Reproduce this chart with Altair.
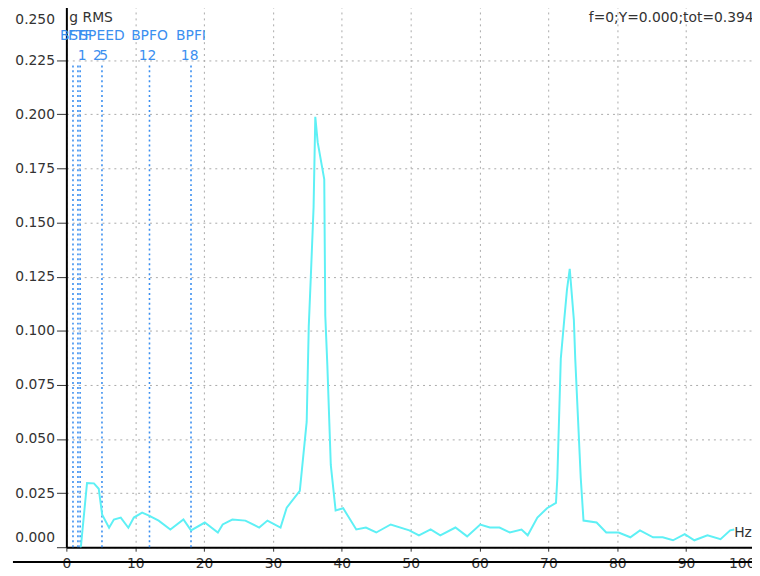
import altair as alt
import pandas as pd

# Spectrum (Hz, g RMS)
freq = [2.1, 3.0, 4.0, 4.7, 5.2, 6.2, 6.9, 7.9, 9.0, 9.8, 11.0, 12.0, 13.4, 15.1, 17.0,
        18.1, 20.1, 22.0, 22.7, 24.1, 26.0, 28.0, 29.2, 31.1, 32.0, 33.9, 34.9, 35.2,
        35.5, 35.9, 36.15, 36.5, 37.45, 37.6, 37.9, 38.4, 39.1, 40.2, 42.1, 43.5, 45.0,
        47.1, 49.8, 51.2, 52.9, 54.3, 56.5, 58.2, 60.1, 61.5, 62.9, 64.4, 66.1, 67.0,
        68.4, 69.8, 71.1, 71.3, 71.8, 72.3, 72.7, 73.1, 73.7, 73.9, 74.7, 75.1, 77.0,
        78.4, 80.2, 81.9, 83.3, 85.2, 86.6, 88.1, 89.8, 91.2, 93.1, 95.0, 96.4, 97.0]
amp = [0.0, 0.0297, 0.0295, 0.027, 0.015, 0.009, 0.0128, 0.0137, 0.009, 0.0137, 0.016,
       0.0146, 0.0123, 0.0082, 0.0128, 0.0078, 0.0114, 0.0068, 0.0105, 0.0128, 0.0123,
       0.0091, 0.0123, 0.0091, 0.0183, 0.026, 0.058, 0.102, 0.125, 0.157, 0.1988, 0.187,
       0.17, 0.107, 0.084, 0.038, 0.017, 0.018, 0.0082, 0.0091, 0.0068, 0.0105, 0.0078,
       0.0055, 0.0082, 0.0055, 0.0091, 0.005, 0.0105, 0.0091, 0.0091, 0.0068, 0.0082,
       0.0055, 0.0137, 0.018, 0.0205, 0.032, 0.087, 0.105, 0.119, 0.1286, 0.105, 0.087,
       0.032, 0.0123, 0.0114, 0.0068, 0.0068, 0.0046, 0.0078, 0.0046, 0.0046, 0.0032,
       0.006, 0.0032, 0.0055, 0.0037, 0.0078, 0.0082]

# Fault-frequency markers
marker_freq = [0.96, 1.68, 2.0, 5.17, 12.07, 18.1]
name_freq = [0.96, 2.0, 5.17, 12.07, 18.1]
name_text = ["BSF", "FTF", "SPEED", "BPFO", "BPFI"]
num_freq = [2.3, 4.5, 5.4, 11.8, 17.9]
num_text = ["1", "2", "5", "12", "18"]

x_ticks = [0, 10, 20, 30, 40, 50, 60, 70, 80, 90, 100]
y_ticks = [0.0, 0.025, 0.05, 0.075, 0.1, 0.125, 0.15, 0.175, 0.2, 0.225, 0.25]

unit_label = "g RMS"
readout = "f=0;Y=0.000;tot=0.3945"
x_unit = "Hz"

W, H = 696, 547
FONT = "DejaVu Sans"
TXT = "#333333"
BLUE = "#3b8ff0"

spec = pd.DataFrame({"f": freq, "a": amp})
markers = pd.DataFrame({"f": marker_freq, "y0": [0.0] * len(marker_freq),
                        "y1": [0.2228] * len(marker_freq)})
names = pd.DataFrame({"f": name_freq, "t": name_text, "y": [0.2363] * len(name_freq)})
nums = pd.DataFrame({"f": num_freq, "t": num_text, "y": [0.2271] * len(num_freq)})

xscale = alt.Scale(domain=[0, 100], nice=False, zero=False)
yscale = alt.Scale(domain=[0, 0.25], nice=False)

xaxis = alt.Axis(values=x_ticks, title=None, format="d", grid=True,
                 gridDash=[2, 4], gridColor="#aaaaaa", gridWidth=1,
                 domainColor="black", domainWidth=2, tickColor=TXT, tickSize=4,
                 labelPadding=5, labelFont=FONT, labelFontSize=14, labelColor=TXT,
                 labelFlush=False, labelOverlap=False, labelBound=False,
                 labelAlign={"condition": {"test": "datum.value >= 100", "value": "right"},
                             "value": "center"})
yaxis = alt.Axis(values=y_ticks, title=None, format=".3f", grid=True,
                 gridDash=[2, 4], gridColor="#aaaaaa", gridWidth=1,
                 domainColor="black", domainWidth=2, tickColor=TXT, tickSize=10,
                 labelPadding=2, labelFont=FONT, labelFontSize=14, labelColor=TXT,
                 labelFlush=False, labelOverlap=False, labelBaseline="middle",
                 labelOffset={"condition": [
                     {"test": "datum.value > 0.24", "value": 14},
                     {"test": "datum.value < 0.001", "value": -10}],
                     "value": 0})

base_line = alt.Chart(spec).mark_line(color="#5EF0F5", strokeWidth=2).encode(
    x=alt.X("f:Q", scale=xscale, axis=xaxis),
    y=alt.Y("a:Q", scale=yscale, axis=yaxis),
)

mark_rules = alt.Chart(markers).mark_rule(color=BLUE, strokeWidth=1.6, strokeDash=[2, 3]).encode(
    x="f:Q", y="y0:Q", y2="y1:Q")

name_layer = alt.Chart(names).mark_text(font=FONT, fontSize=14, color=BLUE,
                                         align="center", baseline="middle").encode(
    x="f:Q", y="y:Q", text="t:N")
num_layer = alt.Chart(nums).mark_text(font=FONT, fontSize=14, color=BLUE,
                                       align="center", baseline="middle").encode(
    x="f:Q", y="y:Q", text="t:N")

unit_txt = alt.Chart(pd.DataFrame({"t": [unit_label]})).mark_text(
    font=FONT, fontSize=14, color=TXT, align="left", baseline="middle").encode(
    x=alt.value(3), y=alt.value(12), text="t:N")
readout_txt = alt.Chart(pd.DataFrame({"t": [readout]})).mark_text(
    font=FONT, fontSize=14, color=TXT, align="left", baseline="middle").encode(
    x=alt.value(528), y=alt.value(12), text="t:N")
hz_txt = alt.Chart(pd.DataFrame({"t": [x_unit]})).mark_text(
    font=FONT, fontSize=14, color=TXT, align="left", baseline="middle").encode(
    x=alt.value(675), y=alt.value(533), text="t:N")
frame = alt.Chart(pd.DataFrame({"t": [0]})).mark_rule(color="black", strokeWidth=2).encode(
    x=alt.value(-54), x2=alt.value(710), y=alt.value(562))

chart = alt.layer(mark_rules, base_line, name_layer, num_layer, unit_txt, readout_txt,
                  hz_txt, frame).properties(
    width=W, height=H,
    autosize=alt.AutoSizeParams(type="none"),
    padding={"left": 59, "top": -5, "right": -3, "bottom": 20},
    background="white",
).configure_view(stroke=None)

chart.save("out.html", embed_options={"renderer": "svg", "actions": False})
